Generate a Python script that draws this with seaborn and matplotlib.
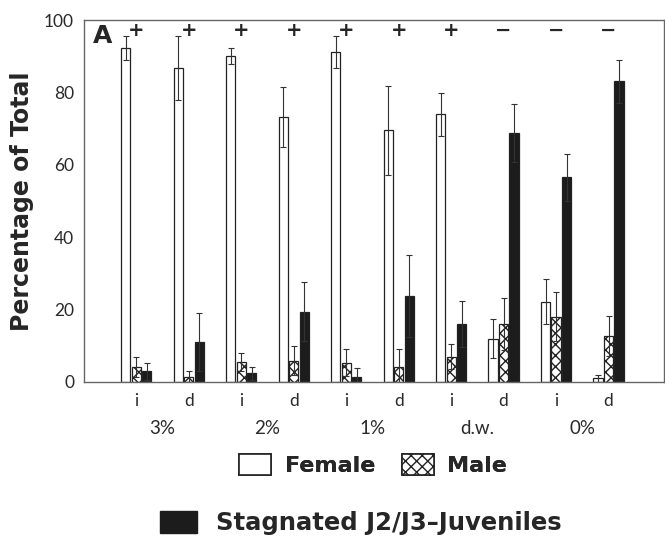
import matplotlib
matplotlib.use('Agg')
import matplotlib.pyplot as plt
import matplotlib.patches as mpatches
import matplotlib.transforms as mtransforms
import seaborn as sns
import pandas as pd
import numpy as np

sns.set_style("white")

# data
groups = ['3% i', '3% d', '2% i', '2% d', '1% i', '1% d', 'd.w. i', 'd.w. d', '0% i', '0% d']
sub_labels = ['i', 'd', 'i', 'd', 'i', 'd', 'i', 'd', 'i', 'd']
conc_labels = ['3%', '2%', '1%', 'd.w.', '0%']
signs = ['+', '+', '+', '+', '+', '+', '+', '−', '−', '−']

female = [92.3, 86.8, 90.0, 73.1, 91.2, 69.6, 73.9, 12.0, 22.2, 1.0]
female_err = [3.3, 8.8, 2.2, 8.3, 4.4, 12.3, 6.0, 5.4, 6.2, 1.0]
male = [4.2, 1.4, 5.6, 5.8, 5.3, 4.0, 7.0, 16.0, 18.0, 12.8]
male_err = [2.7, 1.5, 2.5, 4.0, 3.7, 5.0, 3.5, 7.1, 6.8, 5.5]
stag = [2.9, 11.0, 2.4, 19.4, 1.5, 23.8, 16.0, 68.7, 56.5, 83.1]
stag_err = [2.3, 8.1, 1.8, 8.1, 2.3, 11.3, 6.3, 8.0, 6.5, 5.9]

series = ['Female', 'Male', 'Stagnated']
df = pd.DataFrame({
    'group': groups * 3,
    'series': [s for s in series for _ in groups],
    'value': female + male + stag,
})
errs = [female_err, male_err, stag_err]

fig = plt.figure(figsize=(6.65, 5.41), dpi=100)
ax = fig.add_axes([0.126, 0.294, 0.872, 0.669])

palette = {'Female': 'white', 'Male': 'white', 'Stagnated': '#1c1c1c'}
sns.barplot(data=df, x='group', y='value', hue='series', order=groups,
            hue_order=series, palette=palette, width=0.6, gap=0.12,
            edgecolor='#222222', linewidth=0.9, errorbar=None, legend=False, ax=ax)

# custom error bars on top of the seaborn bars
bar_conts = list(ax.containers)
for i, cont in enumerate(bar_conts):
    xs, ys = [], []
    for bar in cont:
        xs.append(bar.get_x() + bar.get_width() / 2)
        ys.append(bar.get_height())
        if series[i] == 'Male':
            bar.set_hatch('xxx')
    ax.errorbar(xs, ys, yerr=errs[i], fmt='none', ecolor='#333333',
                elinewidth=0.8, capsize=2, capthick=0.8)

tick_font = dict(fontsize=12.5, family='Lato', color='#2a2a2a')
ax.set_xlim(-1.0, 10.05)
ax.set_ylim(0, 100)
ax.set_yticks([0, 20, 40, 60, 80, 100])
ax.set_yticklabels(['0', '20', '40', '60', '80', '100'], **tick_font)
ax.tick_params(axis='y', length=4, width=0.8, color='#555555', pad=3)
ax.set_xticks(range(len(groups)))
ax.set_xticklabels(sub_labels, **tick_font)
ax.tick_params(axis='x', length=0, pad=8)
ax.set_xlabel('')
ax.set_ylabel('Percentage of Total', fontsize=17, fontweight='heavy', labelpad=7)

for sp in ax.spines.values():
    sp.set_color('#666666')
    sp.set_linewidth(1.0)

# concentration labels under each i/d pair
trans = mtransforms.blended_transform_factory(ax.transData, ax.transAxes)
for k, lab in enumerate(conc_labels):
    ax.text(2 * k + 0.5, -0.128, lab, transform=trans, ha='center', va='center',
            fontsize=13.5, family='Lato', color='#2a2a2a')

# significance signs at top
for k, s in enumerate(signs):
    ax.text(k, 97.0, s, ha='center', va='center', fontsize=14, fontweight='heavy')

ax.text(0.015, 0.955, 'A', transform=ax.transAxes, fontsize=18,
        fontweight='heavy', ha='left', va='center')

h_f = mpatches.Patch(facecolor='white', edgecolor='#222222', linewidth=1.2, label='Female')
h_m = mpatches.Patch(facecolor='white', edgecolor='#222222', linewidth=1.2, hatch='xxx', label='Male')
h_s = mpatches.Patch(facecolor='#1c1c1c', edgecolor='#1c1c1c', label='Stagnated J2/J3–Juveniles')

leg1 = fig.legend(handles=[h_f, h_m], loc='center', bbox_to_anchor=(0.561, 0.14),
                  ncol=2, frameon=False, handlelength=1.45, handleheight=1.1,
                  columnspacing=1.2, handletextpad=0.6,
                  prop={'size': 16, 'weight': 'heavy'})
leg2 = fig.legend(handles=[h_s], loc='center', bbox_to_anchor=(0.543, 0.033),
                  frameon=False, handlelength=1.5, handleheight=1.0, handletextpad=0.8,
                  prop={'size': 17.5, 'weight': 'heavy'})
fig.add_artist(leg1)

fig.savefig('out.png', dpi=100)
plt.close(fig)
